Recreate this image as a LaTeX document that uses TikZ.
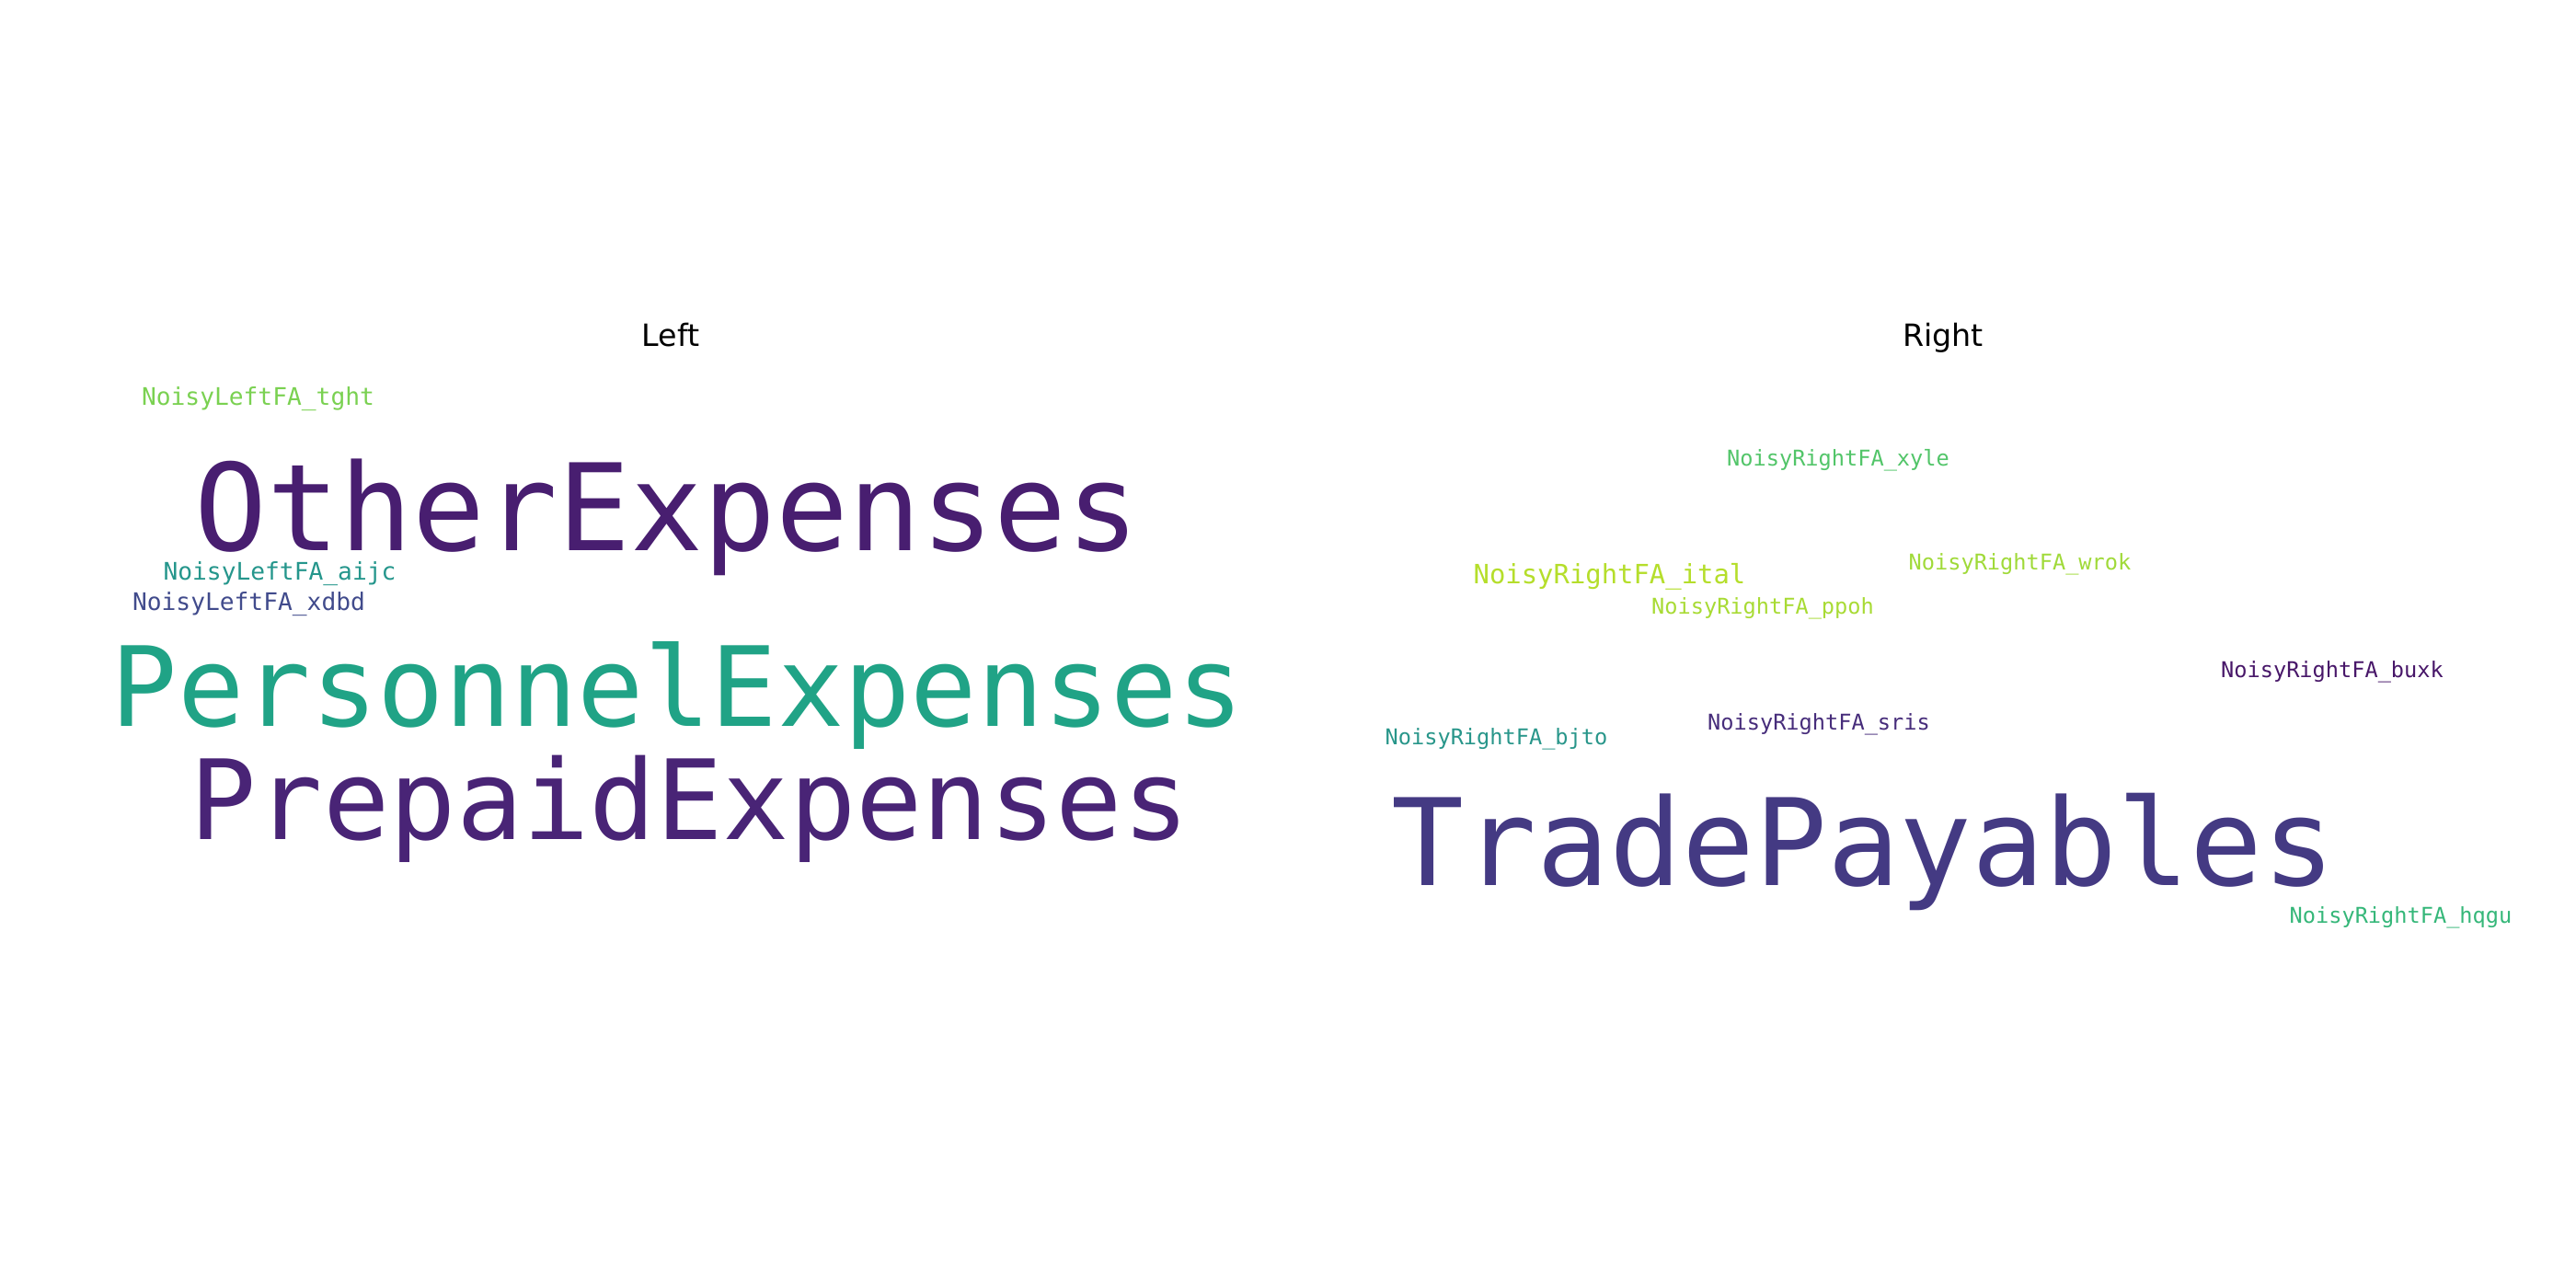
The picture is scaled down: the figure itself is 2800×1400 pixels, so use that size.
\documentclass[tikz,border=0pt]{standalone}
\usepackage{fontspec}
\setmainfont{DejaVu Sans}
\newfontfamily\cloudfont{DejaVu Sans Mono}
\usepackage{tikz}
\usetikzlibrary{positioning}

% viridis shades
\definecolor{vPurpleA}{RGB}{72,30,112}
\definecolor{vPurpleB}{RGB}{73,36,118}
\definecolor{vPurpleC}{RGB}{72,23,105}
\definecolor{vPurpleD}{RGB}{71,45,123}
\definecolor{vIndigo}{RGB}{68,58,131}
\definecolor{vSlate}{RGB}{65,75,140}
\definecolor{vTeal}{RGB}{37,150,140}
\definecolor{vTealB}{RGB}{40,150,138}
\definecolor{vGreenTeal}{RGB}{32,163,134}
\definecolor{vMint}{RGB}{53,183,121}
\definecolor{vGreen}{RGB}{82,197,105}
\definecolor{vLime}{RGB}{122,209,81}
\definecolor{vLimeB}{RGB}{160,218,57}
\definecolor{vLimeC}{RGB}{168,219,52}
\definecolor{vYellowGreen}{RGB}{181,222,43}

\tikzset{
  word/.style={inner sep=0pt, anchor=base, font=\cloudfont},
  panel title/.style={inner sep=0pt, anchor=base, font=\fontsize{12}{14}\selectfont}
}

\begin{document}
\begin{tikzpicture}[x=0.36pt, y=-0.36pt]
        \useasboundingbox (0,0) rectangle (2800,1400);
        \fill[white] (0,0) rectangle (2800,1400);

        % Titles
        \node[panel title] (lefttitle) at (729,376) {Left};
        \node[panel title] (righttitle) at (2112,376) {Right};

        % Left cloud
        \node[word, text=vLime, font=\cloudfont\fontsize{9.45}{10}\selectfont] (tght) at (280.5,440) {NoisyLeftFA\_tght};
        \node[word, text=vPurpleA, font=\cloudfont\fontsize{47.2}{50}\selectfont] (other) at (725,598) {OtherExpenses};
        \node[word, text=vTeal, font=\cloudfont\fontsize{9.45}{10}\selectfont] (aijc) at (304,630) {NoisyLeftFA\_aijc};
        \node[word, text=vSlate, font=\cloudfont\fontsize{9.45}{10}\selectfont] (xdbd) at (270.5,663) {NoisyLeftFA\_xdbd};
        \node[word, text=vGreenTeal, font=\cloudfont\fontsize{43.3}{46}\selectfont] (personnel) at (736.5,789) {PersonnelExpenses};
        \node[word, text=vPurpleB, font=\cloudfont\fontsize{43.3}{46}\selectfont] (prepaid) at (749.5,912) {PrepaidExpenses};

        % Right cloud
        \node[word, text=vGreen, font=\cloudfont\fontsize{8.5}{9}\selectfont] (xyle) at (1998,506) {NoisyRightFA\_xyle};
        \node[word, text=vLimeB, font=\cloudfont\fontsize{8.5}{9}\selectfont] (wrok) at (2195.5,619) {NoisyRightFA\_wrok};
        \node[word, text=vYellowGreen, font=\cloudfont\fontsize{10.4}{11}\selectfont] (ital) at (1749.5,634) {NoisyRightFA\_ital};
        \node[word, text=vLimeC, font=\cloudfont\fontsize{8.5}{9}\selectfont] (ppoh) at (1916,667) {NoisyRightFA\_ppoh};
        \node[word, text=vPurpleC, font=\cloudfont\fontsize{8.5}{9}\selectfont] (buxk) at (2535,736) {NoisyRightFA\_buxk};
        \node[word, text=vPurpleD, font=\cloudfont\fontsize{8.5}{9}\selectfont] (sris) at (1977,793) {NoisyRightFA\_sris};
        \node[word, text=vTealB, font=\cloudfont\fontsize{8.5}{9}\selectfont] (bjto) at (1626.5,809) {NoisyRightFA\_bjto};
        \node[word, text=vIndigo, font=\cloudfont\fontsize{47.2}{50}\selectfont] (trade) at (2025.5,962) {TradePayables};
        \node[word, text=vMint, font=\cloudfont\fontsize{8.5}{9}\selectfont] (hqgu) at (2609.5,1003) {NoisyRightFA\_hqgu};
    \end{tikzpicture}
\end{document}
